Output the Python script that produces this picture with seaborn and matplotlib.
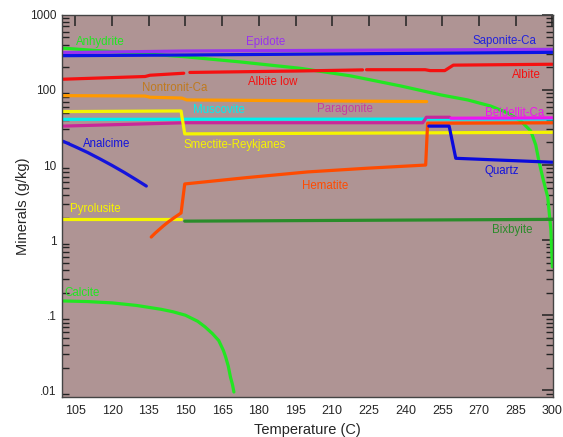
import matplotlib
matplotlib.use("Agg")
import matplotlib.pyplot as plt
import matplotlib.ticker as mticker
import numpy as np
import pandas as pd
import seaborn as sns

# --------------------------------------------------
# Data (temperature in C, minerals in g/kg)
# --------------------------------------------------
anhydrite_t = [100, 149.2, 172.5, 197, 217.5, 238, 254.3, 265.4, 274.8, 281.8, 287.1,
               291.2, 293.2, 294.4, 296.1, 298.1, 299.4, 300]
anhydrite_v = [360, 278, 236, 194, 154, 113, 86, 73.6, 61, 49.3, 38.6,
               28.3, 18.5, 11.7, 6.7, 3.74, 1.36, 0.44]

epidote_t = [100, 149.5, 300]
epidote_v = [314, 330, 347]

saponite_t = [100, 149.5, 300]
saponite_v = [286, 292, 317]

albite_low_t = [100, 133.5, 135.5, 149.3]
albite_low_v = [139, 151, 157, 167]
albite_low2_t = [151.8, 197, 222.4]
albite_low2_v = [171, 179, 185]
albite_t = [224, 248, 250, 256, 259.5, 300]
albite_v = [186, 186, 181, 181, 214, 220]

nontronit_t = [100, 133.5, 135.5, 148.5, 150.5, 248.6]
nontronit_v = [84, 83, 80, 78, 73.6, 70]

muscovite_t = [100, 200, 300]
muscovite_v = [40.6, 40.8, 41]

paragonite_t = [100, 150, 247, 248.5, 258]
paragonite_v = [33, 36.6, 36.6, 43.3, 43.3]

beidellit_t = [258.5, 300]
beidellit_v = [42, 42.5]

smectite_t = [100, 148.2, 149.7, 300]
smectite_v = [51.5, 52.5, 26, 27.3]

analcime_t = [100, 105, 110, 115, 120, 125, 130, 134]
analcime_v = [20.7, 17.5, 14.7, 12.1, 9.88, 7.97, 6.34, 5.25]

pyrolusite_t = [100, 148.2]
pyrolusite_v = [1.89, 1.89]

bixbyite_t = [149.7, 300]
bixbyite_v = [1.79, 1.89]

hematite_t = [136, 137.5, 139, 141, 143, 145.5, 148.2, 149.7, 175, 200, 225, 248.2, 249, 300]
hematite_v = [1.1, 1.23, 1.36, 1.55, 1.75, 2.0, 2.3, 5.6, 6.8, 8.1, 9.1, 10, 36, 36.5]

quartz_t = [249.5, 257.8, 260.5, 300]
quartz_v = [33, 33, 12.3, 10.9]

calcite_t = [100, 110, 120, 130, 140, 145, 150, 155, 158, 161, 163.6, 165.5, 166.4,
             167.5, 168.4, 169.2, 169.8]
calcite_v = [0.155, 0.152, 0.146, 0.135, 0.12, 0.111, 0.1, 0.083, 0.07, 0.057, 0.046,
             0.034, 0.028, 0.021, 0.015, 0.012, 0.0095]

series = {
    "Anhydrite": (anhydrite_t, anhydrite_v),
    "Epidote": (epidote_t, epidote_v),
    "Saponite-Ca": (saponite_t, saponite_v),
    "Albite low": (albite_low_t, albite_low_v),
    "Albite low (2)": (albite_low2_t, albite_low2_v),
    "Albite": (albite_t, albite_v),
    "Nontronit-Ca": (nontronit_t, nontronit_v),
    "Muscovite": (muscovite_t, muscovite_v),
    "Paragonite": (paragonite_t, paragonite_v),
    "Beidellit-Ca": (beidellit_t, beidellit_v),
    "Smectite-Reykjanes": (smectite_t, smectite_v),
    "Analcime": (analcime_t, analcime_v),
    "Pyrolusite": (pyrolusite_t, pyrolusite_v),
    "Bixbyite": (bixbyite_t, bixbyite_v),
    "Hematite": (hematite_t, hematite_v),
    "Quartz": (quartz_t, quartz_v),
    "Calcite": (calcite_t, calcite_v),
}

line_colors = {
    "Anhydrite": "#22E622",
    "Epidote": "#9933EE",
    "Saponite-Ca": "#0A14E6",
    "Albite low": "#F51010",
    "Albite low (2)": "#F51010",
    "Albite": "#F51010",
    "Nontronit-Ca": "#FF9900",
    "Muscovite": "#00F0F0",
    "Paragonite": "#C8289A",
    "Beidellit-Ca": "#F014F0",
    "Smectite-Reykjanes": "#F5F500",
    "Analcime": "#1414DC",
    "Pyrolusite": "#F5F500",
    "Bixbyite": "#2A8C2A",
    "Hematite": "#FF4B00",
    "Quartz": "#0A0ADC",
    "Calcite": "#22E622",
}

# label text, position (T, g/kg), colour
labels = [
    ("Anhydrite", 115.1, 441, "#22E622"),
    ("Epidote", 182.7, 433, "#9933EE"),
    ("Saponite-Ca", 280.2, 450, "#2222DD"),
    ("Albite low", 185.5, 127, "#F51010"),
    ("Albite", 289.4, 158, "#F51010"),
    ("Nontronit-Ca", 145.6, 105, "#C07A1E"),
    ("Muscovite", 163.7, 54, "#00F0F0"),
    ("Paragonite", 215.0, 55.3, "#C83CA0"),
    ("Beidellit-Ca", 284.5, 49.9, "#F014F0"),
    ("Smectite-Reykjanes", 169.9, 18.5, "#F5F500"),
    ("Analcime", 117.8, 18.9, "#1414DC"),
    ("Pyrolusite", 113.3, 2.57, "#F5F500"),
    ("Hematite", 207.3, 5.25, "#FF4B00"),
    ("Quartz", 279.2, 8.33, "#1414DC"),
    ("Bixbyite", 283.8, 1.36, "#2A8C2A"),
    ("Calcite", 107.9, 0.195, "#22E622"),
]

rows = []
for name, (ts, vs) in series.items():
    for i, (t, v) in enumerate(zip(ts, vs)):
        rows.append({"segment": name, "order": i, "Temperature": t, "Minerals": v})
df = pd.DataFrame(rows)

# --------------------------------------------------
# Plot
# --------------------------------------------------
sns.set_theme(style="white")
plt.rcParams["font.family"] = ["Liberation Sans", "DejaVu Sans"]

fig = plt.figure(figsize=(5.63, 4.37), dpi=100)
ax = fig.add_axes([0.110, 0.092, 0.872, 0.874])
ax.set_facecolor("#AF9494")

sns.lineplot(
    data=df, x="Temperature", y="Minerals", hue="segment", units="segment",
    estimator=None, sort=False, palette=line_colors, linewidth=2.3,
    legend=False, ax=ax,
)

for text, t, v, c in labels:
    ax.text(t, v, text, color=c, fontsize=8.3, ha="center", va="center")

ax.set_yscale("log")
ax.set_xlim(99.5, 300.2)
ax.set_ylim(0.0082, 1000)

ax.xaxis.set_major_locator(mticker.FixedLocator(list(range(105, 301, 15))))
ax.xaxis.set_minor_locator(mticker.NullLocator())
ax.yaxis.set_major_locator(mticker.FixedLocator([0.01, 0.1, 1, 10, 100, 1000]))
ax.yaxis.set_major_formatter(mticker.FixedFormatter([".01", ".1", "1", "10", "100", "1000"]))
ax.yaxis.set_minor_locator(mticker.LogLocator(base=10, subs=np.arange(2, 10)))
ax.yaxis.set_minor_formatter(mticker.NullFormatter())

ax.tick_params(axis="both", which="major", direction="in", top=True, right=True,
               length=8, width=1.1, color="#222222", pad=4)
ax.tick_params(axis="x", which="major", labelsize=9, pad=6)
ax.tick_params(axis="y", which="major", labelsize=8.5)
ax.tick_params(axis="y", which="minor", direction="in", left=True, right=True,
               length=5, width=1.0, color="#222222")
for sp in ax.spines.values():
    sp.set_color("#444444")
    sp.set_linewidth(1.0)

ax.set_xlabel("Temperature (C)", fontsize=10.5, labelpad=4)
ax.set_ylabel("Minerals (g/kg)", fontsize=10.5, labelpad=0)

fig.savefig("out.png", dpi=100, facecolor="white")
plt.close(fig)
